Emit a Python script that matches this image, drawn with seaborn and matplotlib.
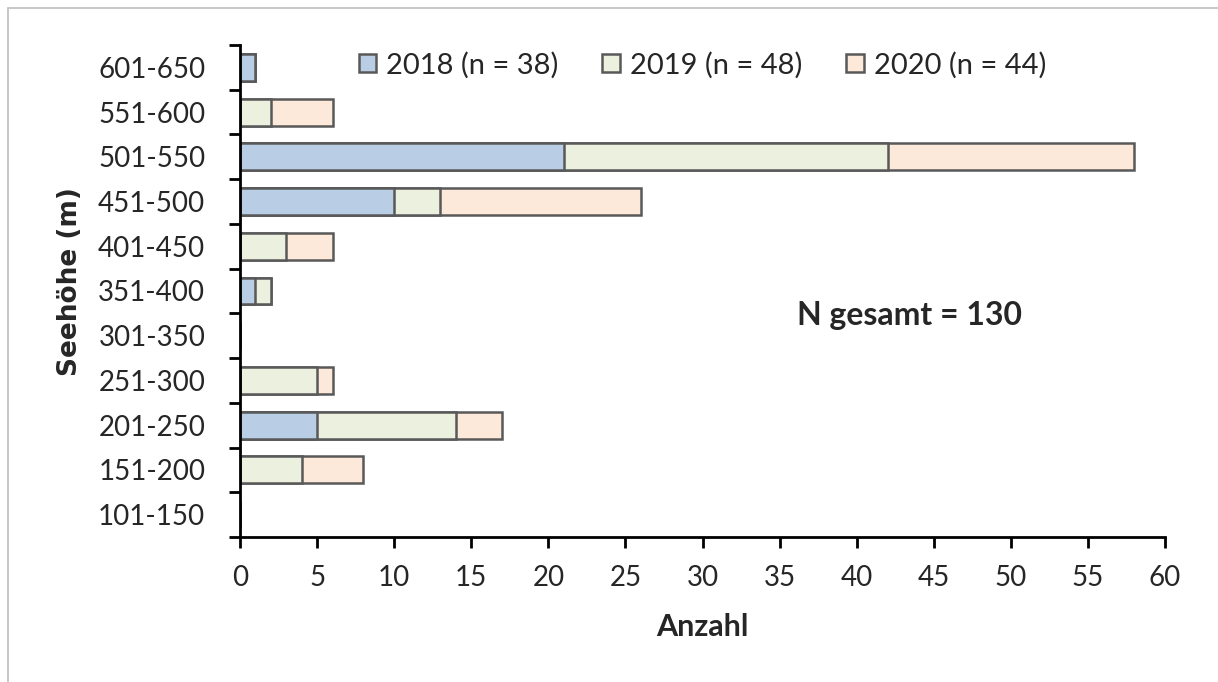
import numpy as np
import pandas as pd
import matplotlib
matplotlib.use('Agg')
import matplotlib.pyplot as plt
from matplotlib.patches import Patch, Rectangle
import seaborn as sns

# Altitude classes, top to bottom as in the chart
classes = ['601-650', '551-600', '501-550', '451-500', '401-450', '351-400',
           '301-350', '251-300', '201-250', '151-200', '101-150']
n_2018 = [1, 0, 21, 10, 0, 1, 0, 0, 5, 0, 0]
n_2019 = [0, 2, 21, 3, 3, 1, 0, 5, 9, 4, 0]
n_2020 = [0, 4, 16, 13, 3, 0, 0, 1, 3, 4, 0]
labels = ['2018 (n = 38)', '2019 (n = 48)', '2020 (n = 44)']
x_ticks = list(range(0, 61, 5))

COLORS = ['#B9CDE5', '#EBF1DE', '#FDE9D9']
EDGE = '#595959'

sns.set_style('white')
plt.rcParams['font.family'] = ['Lato', 'DejaVu Sans']

df = pd.DataFrame({'Klasse': classes, '2018': n_2018, '2019': n_2019, '2020': n_2020})
df['c1'] = df['2018']
df['c2'] = df['2018'] + df['2019']
df['c3'] = df['c2'] + df['2020']

fig = plt.figure(figsize=(12.18, 6.82), dpi=100)
ax = fig.add_axes([240 / 1218, 1 - 537 / 682, (1165 - 240) / 1218, (537 - 45) / 682])

# stacked bars drawn as overlapping cumulative totals
for col, color in zip(['c3', 'c2', 'c1'], COLORS[::-1]):
    sns.barplot(data=df, x=col, y='Klasse', order=classes, orient='h', color=color,
                edgecolor=EDGE, linewidth=1.8, width=0.6, saturation=1, ax=ax)

ax.set_xlim(0, 60)
ax.set_ylim(10.5, -0.5)
ax.set_xticks(x_ticks)
ax.set_yticks(range(len(classes)))
ax.set_yticklabels(classes)
ax.set_yticks(np.arange(-0.5, len(classes), 1), minor=True)
ax.tick_params(axis='y', which='major', length=0, pad=25, labelsize=20, colors='#262626')
ax.tick_params(axis='y', which='minor', length=8, width=2, color='black', left=True)
ax.tick_params(axis='x', which='major', length=8, width=2, color='black', bottom=True,
               pad=12, labelsize=20, labelcolor='#262626')

for side in ['top', 'right']:
    ax.spines[side].set_visible(False)
for side in ['left', 'bottom']:
    ax.spines[side].set_linewidth(2)
    ax.spines[side].set_color('black')

ax.set_xlabel('Anzahl', fontsize=22, fontweight='bold', labelpad=16)
ax.set_ylabel('')
fig.text(70 / 1218, 1 - 282 / 682, 'Seehöhe (m)', rotation=90, ha='center', va='center',
         fontsize=19, fontweight='bold', family='DejaVu Sans')

ax.text(0.724, 0.451, 'N gesamt = 130', transform=ax.transAxes, ha='center', va='center',
        fontsize=23, fontweight='bold')

handles = [Patch(facecolor=c, edgecolor=EDGE, linewidth=1.8) for c in COLORS]
ax.legend(handles, labels, loc='upper center', bbox_to_anchor=(0.50, 1.04), ncol=3,
          frameon=False, fontsize=21, handlelength=0.6, handleheight=0.6,
          handletextpad=0.35, columnspacing=1.5)

# outer chart-area border
fig.patches.append(Rectangle((8 / 1218, -0.02), 1.1, 1 - 8 / 682 + 0.02,
                             transform=fig.transFigure, fill=False,
                             edgecolor='#BFBFBF', linewidth=1.2))

plt.savefig('out.png', dpi=100)
